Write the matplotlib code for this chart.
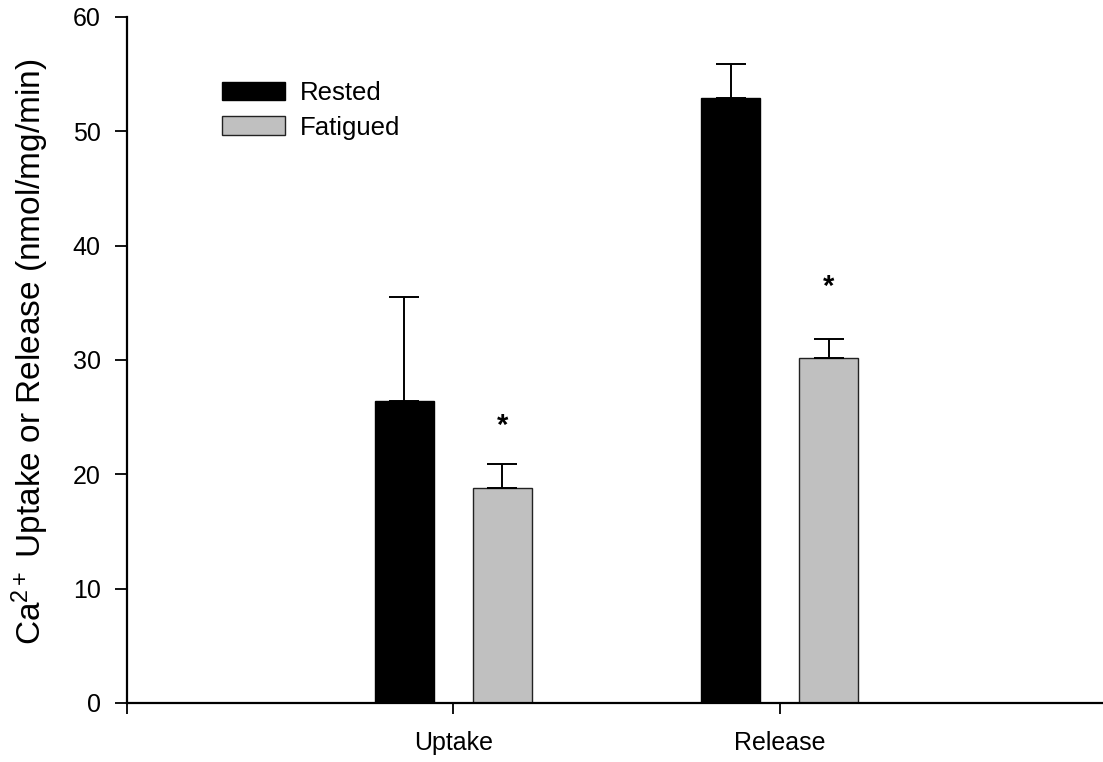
import matplotlib
matplotlib.use("Agg")
import matplotlib.pyplot as plt
import numpy as np

plt.rcParams["font.family"] = ["Liberation Sans", "DejaVu Sans"]
plt.rcParams["mathtext.fontset"] = "custom"
plt.rcParams["mathtext.rm"] = "Liberation Sans"
plt.rcParams["mathtext.it"] = "Liberation Sans"

# Data
groups = ["Uptake", "Release"]
rested = [26.4, 52.9]
rested_err = [9.1, 3.0]
fatigued = [18.8, 30.2]
fatigued_err = [2.1, 1.6]
star_y = [24.2, 36.4]  # where the "*" marks sit (fatigued vs rested)

fig = plt.figure(figsize=(11.03, 7.62), dpi=100)
ax = fig.add_axes([127 / 1103, 59 / 762, 976 / 1103, 686 / 762])

x = np.arange(1, len(groups) + 1)
width = 0.181
off = 0.15

ax.bar(x - off, rested, width, color="black", edgecolor="black", linewidth=1, label="Rested")
ax.bar(x + off, fatigued, width, color="#c0c0c0", edgecolor="#222222", linewidth=1, label="Fatigued")

# one-sided (upward) error bars
ax.errorbar(x - off, rested, yerr=[np.zeros(len(x)), rested_err], fmt="none",
            ecolor="black", elinewidth=1.4, capsize=10.5, capthick=1.4)
ax.errorbar(x + off, fatigued, yerr=[np.zeros(len(x)), fatigued_err], fmt="none",
            ecolor="black", elinewidth=1.4, capsize=10.5, capthick=1.4)

for xi, sy in zip(x, star_y):
    ax.text(xi + off, sy, "*", ha="center", va="center", fontsize=21, fontweight="bold")

ax.set_xlim(0, 2.991)
ax.set_ylim(0, 60)
ax.set_xticks([0, 1, 2])
ax.set_xticklabels(["", "Uptake", "Release"])
ax.set_yticks(np.arange(0, 61, 10))

ax.spines["top"].set_visible(False)
ax.spines["right"].set_visible(False)
ax.spines["left"].set_linewidth(1.6)
ax.spines["bottom"].set_linewidth(1.6)
ax.tick_params(axis="both", direction="out", labelsize=18, width=1.3)
ax.tick_params(axis="x", length=8, pad=12)
ax.tick_params(axis="y", length=8.5, pad=10.5)

ax.set_ylabel("Ca$^{2+}$ Uptake or Release (nmol/mg/min)", fontsize=24)
ax.yaxis.set_label_coords(-0.078, 0.512)

ax.legend(loc="upper left", bbox_to_anchor=(222 / 1103, 1 - 81 / 762),
          bbox_transform=fig.transFigure, frameon=False, fontsize=18.5,
          handlelength=2.45, handleheight=0.74, handletextpad=0.6,
          labelspacing=0.42, borderpad=0, borderaxespad=0)

fig.savefig("out.png", dpi=100)
